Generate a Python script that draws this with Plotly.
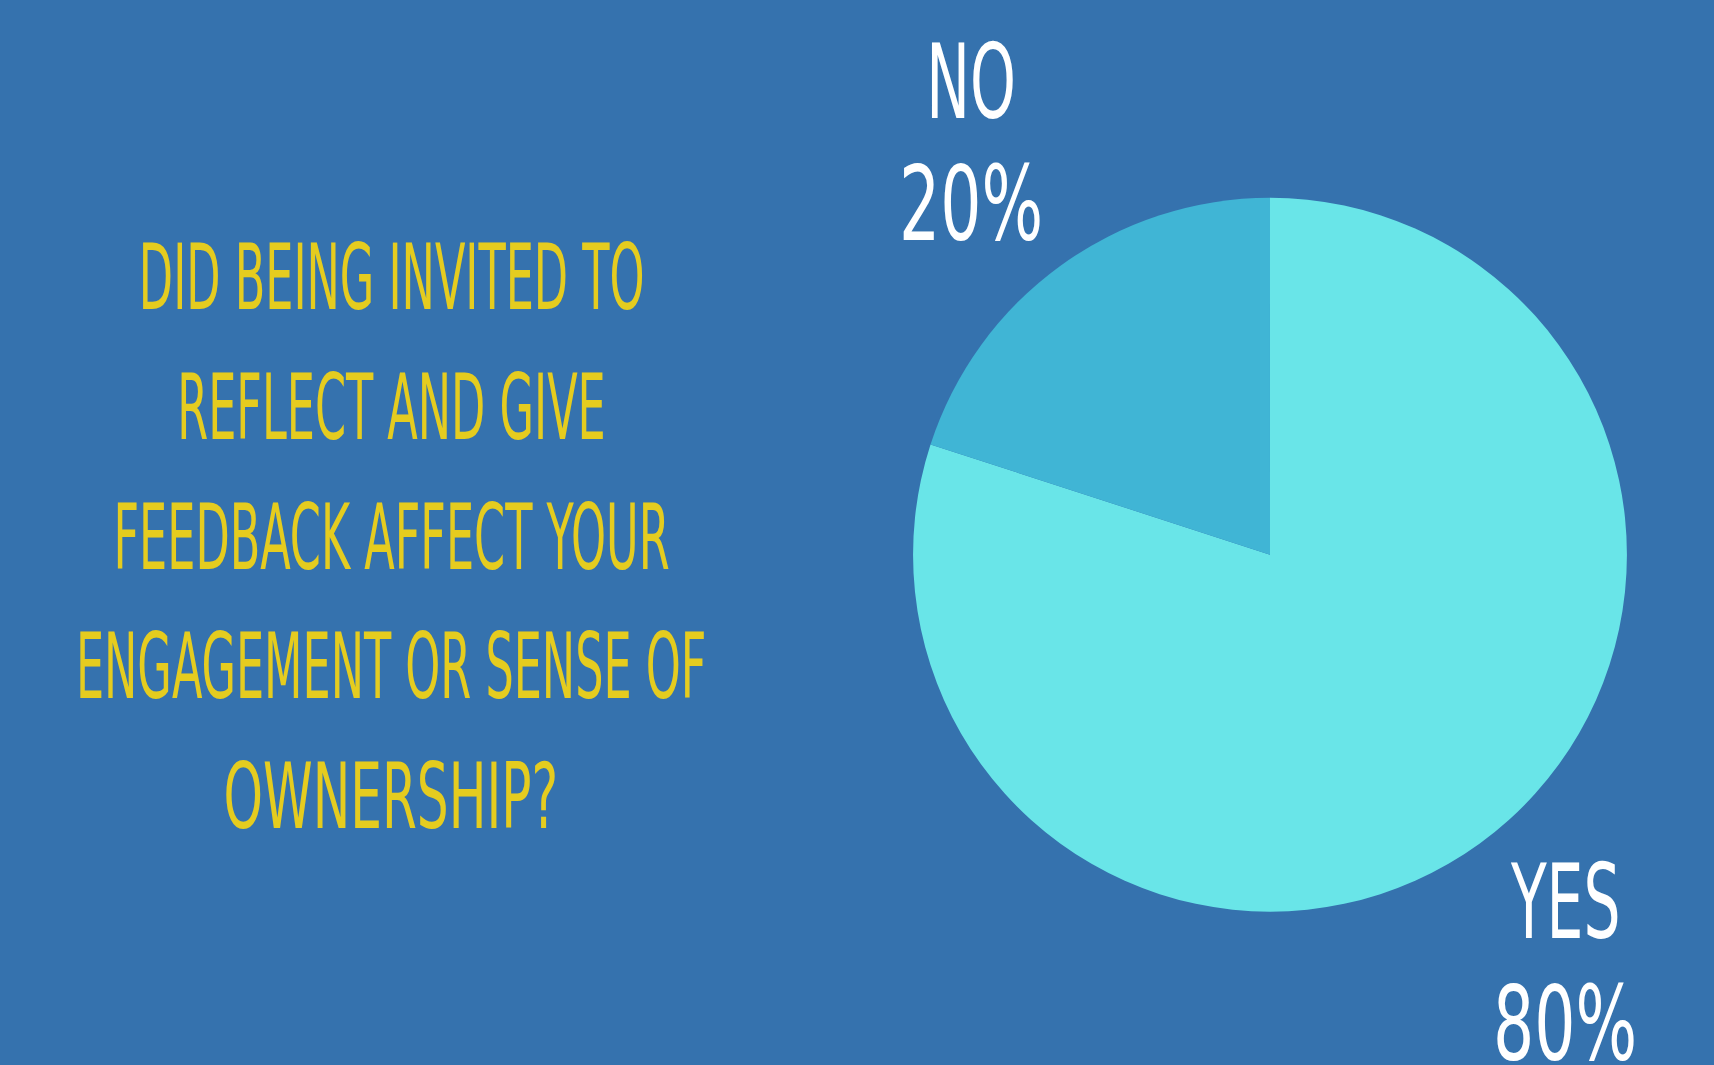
import json
import plotly.graph_objects as go

# ---- data ----
labels = ["YES", "NO"]
values = [80, 20]
slice_colors = ["#69E5E8", "#40B5D5"]
question_lines = [
    "DID BEING INVITED TO",
    "REFLECT AND GIVE",
    "FEEDBACK AFFECT YOUR",
    "ENGAGEMENT OR SENSE OF",
    "OWNERSHIP?",
]

W, H = 1714, 1065
BG = "#3572AE"
YELLOW = "#E5CC1F"
FONT = "DejaVu Sans Condensed, DejaVu Sans, sans-serif"

fig = go.Figure()
fig.add_trace(go.Pie(
    labels=labels,
    values=values,
    sort=False,
    direction="clockwise",
    rotation=0,
    marker=dict(colors=slice_colors, line=dict(width=0)),
    textinfo="none",
    hoverinfo="label+percent",
    showlegend=False,
    domain=dict(x=[0.5327, 0.9492], y=[0.1439, 0.8144]),
))

total = sum(values)
# (x, y of name line, y of percent line) in pixels from top-left
label_pos = {"NO": (971, 82, 204), "YES": (1565, 902, 1024)}
annotations = []
scales = []
for lab, val in zip(labels, values):
    px, py1, py2 = label_pos[lab]
    for txt, py, s in ((lab, py1, 0.63), (f"{round(100 * val / total)}%", py2, 0.70)):
        annotations.append(dict(
            x=px / W, y=1 - py / H, xref="paper", yref="paper",
            text=txt, showarrow=False, xanchor="center", yanchor="middle",
            font=dict(family=FONT, size=103, color="white"),
        ))
        scales.append(s)

line_y = [277, 408, 537, 666, 796]
line_scale = [0.55, 0.55, 0.55, 0.55, 0.62]
for txt, yy, s in zip(question_lines, line_y, line_scale):
    annotations.append(dict(
        x=391 / W, y=1 - yy / H, xref="paper", yref="paper",
        text=txt, showarrow=False, xanchor="center", yanchor="middle",
        font=dict(family=FONT, size=90, color=YELLOW),
    ))
    scales.append(s)

fig.update_layout(
    width=W, height=H,
    margin=dict(l=0, r=0, t=0, b=0),
    paper_bgcolor=BG, plot_bgcolor=BG,
    annotations=annotations,
)

post = """
document.body.style.margin='0';
document.body.style.background='%s';
var gd=document.getElementById('{plot_id}');
var sc=%s;
function squeeze(){
  gd.querySelectorAll('g.annotation').forEach(function(g){
    var i=parseInt(g.getAttribute('data-index'));
    var t=g.querySelector('text.annotation-text');
    if(t && !isNaN(i)){
      t.style.transformBox='fill-box';
      t.style.transformOrigin='center';
      t.style.transform='scaleX('+sc[i]+')';
    }
  });
}
squeeze();
gd.on && gd.on('plotly_afterplot', squeeze);
""" % (BG, json.dumps(scales))

fig.write_html("out.html", post_script=post, config={"displayModeBar": False})
